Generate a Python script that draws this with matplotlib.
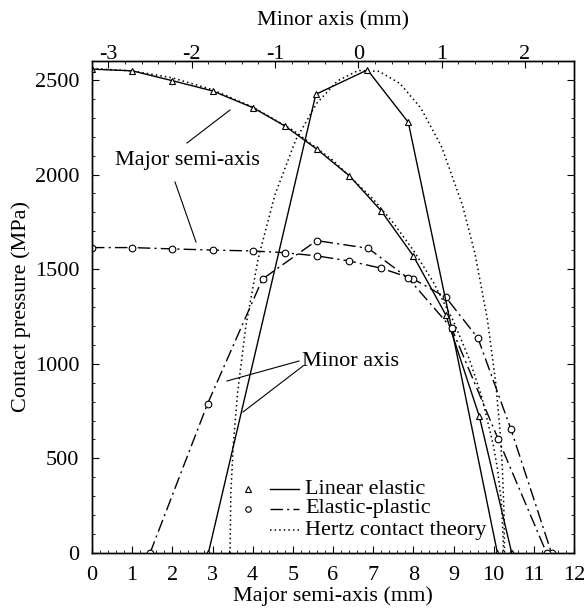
import matplotlib
matplotlib.use("Agg")
import matplotlib.pyplot as plt
from matplotlib.ticker import MultipleLocator
from matplotlib.lines import Line2D

plt.rcParams['font.family'] = ['Liberation Serif', 'DejaVu Serif']
plt.rcParams['axes.unicode_minus'] = False

# ---- data: major semi-axis (bottom axis, mm) ----
maj_lin_x = [0, 1, 2, 3, 4, 4.8, 5.6, 6.41, 7.2, 8.0, 8.81, 9.64, 10.45]
maj_lin_y = [2557, 2548, 2496, 2442, 2354, 2257, 2134, 1993, 1808, 1570, 1258, 724, 0]

maj_ep_x = [0, 1, 2, 3, 4, 4.8, 5.6, 6.41, 7.2, 8.0, 8.81, 9.61, 10.43, 11.44]
maj_ep_y = [1614, 1614, 1607, 1601, 1596, 1587, 1570, 1543, 1505, 1448, 1351, 1135, 654, 0]

maj_hertz_x = [0, 1, 2, 3, 4, 5, 6, 7, 7.5, 8, 8.5, 9, 9.4, 9.7, 10, 10.1, 10.2, 10.25]
maj_hertz_y = [2560, 2548, 2511, 2448, 2357, 2235, 2075, 1870, 1745, 1600, 1431, 1225,
               1021, 827, 562, 437, 252, 0]

# ---- data: minor axis (top axis, mm) ----
min_lin_x = [-1.80, -0.51, 0.11, 0.60, 1.12, 1.67]
min_lin_y = [0, 2424, 2553, 2276, 1188, 0]

min_ep_x = [-2.50, -1.81, -1.15, -0.50, 0.12, 0.60, 1.12, 1.68, 2.26]
min_ep_y = [0, 788, 1448, 1651, 1610, 1452, 1188, 601, 0]

min_hertz_x = [-1.54, -1.53, -1.50, -1.45, -1.35, -1.2, -1.0, -0.75, -0.5, -0.25, 0.0,
               0.25, 0.5, 0.75, 1.0, 1.25, 1.4, 1.55, 1.65, 1.70, 1.73, 1.75, 1.755]
min_hertz_y = [0, 320, 578, 846, 1199, 1560, 1894, 2184, 2376, 2495, 2550,
               2545, 2481, 2352, 2147, 1839, 1583, 1234, 899, 654, 442, 197, 0]

legend_labels = ["Linear elastic", "Elastic-plastic", "Hertz contact theory"]

W, H = 585, 613
fig = plt.figure(figsize=(W / 100, H / 100), dpi=100)
ax = fig.add_axes([92 / W, 1 - 553 / H, (574 - 92) / W, (553 - 61) / H])
ax2 = ax.twiny()

dashdot = (0, (9, 3, 1.5, 3))
dotted = (0, (1, 2))
mk = dict(mfc='white', mec='black', mew=0.8, color='black', lw=1.0)
tri_ms, cir_ms = 4.5, 4.8

ax.plot(maj_hertz_x, maj_hertz_y, color='black', lw=1.1, ls=dotted)
ax.plot(maj_lin_x, maj_lin_y, marker='^', ms=tri_ms, ls='-', **mk)
ax.plot(maj_ep_x, maj_ep_y, marker='o', ms=cir_ms, ls=dashdot, **mk)

ax2.plot(min_hertz_x, min_hertz_y, color='black', lw=1.1, ls=dotted)
ax2.plot(min_lin_x, min_lin_y, marker='^', ms=tri_ms, ls='-', **mk)
ax2.plot(min_ep_x, min_ep_y, marker='o', ms=cir_ms, ls=dashdot, **mk)

ax.set_xlim(0, 12)
ax.set_ylim(0, 2600)
ax2.set_xlim(-3.197, -3.197 + 0.4822 * 12)

ax.xaxis.set_major_locator(MultipleLocator(1))
ax.xaxis.set_minor_locator(MultipleLocator(0.2))
ax.yaxis.set_major_locator(MultipleLocator(500))
ax.yaxis.set_minor_locator(MultipleLocator(100))
ax2.xaxis.set_major_locator(MultipleLocator(1))
ax2.xaxis.set_minor_locator(MultipleLocator(0.2))

fs = 16
for a in (ax, ax2):
    a.tick_params(which='major', direction='in', length=5, width=0.8, labelsize=fs)
    a.tick_params(which='minor', direction='in', length=2.5, width=0.6)
    for s in a.spines.values():
        s.set_linewidth(1.0)
ax.tick_params(axis='y', which='both', right=True, pad=9)
ax.tick_params(axis='x', pad=9)
ax2.tick_params(axis='x', pad=-2)

ax.set_xlabel("Major semi-axis (mm)", fontsize=fs, labelpad=1)
ax.set_ylabel("Contact pressure (MPa)", fontsize=fs, labelpad=3)
ax2.set_xlabel("Minor axis (mm)", fontsize=fs, labelpad=14)

# annotations (pixel positions converted to axes fraction)
def af(px, py):
    return ((px - 92) / (574 - 92), (553 - py) / (553 - 61))

ax.text(*af(187, 160), "Major semi-axis", transform=ax.transAxes, fontsize=fs,
        ha='center', va='center')
for (p0, p1) in [((187, 143), (230, 110)), ((175, 182), (196, 242))]:
    a0, a1 = af(*p0), af(*p1)
    ax.add_line(Line2D([a0[0], a1[0]], [a0[1], a1[1]], transform=ax.transAxes,
                       color='black', lw=0.8))

ax.text(*af(302, 361), "Minor axis", transform=ax.transAxes, fontsize=fs,
        ha='left', va='center')
for (p0, p1) in [((299, 361), (227, 381)), ((303, 366), (243, 412))]:
    a0, a1 = af(*p0), af(*p1)
    ax.add_line(Line2D([a0[0], a1[0]], [a0[1], a1[1]], transform=ax.transAxes,
                       color='black', lw=0.8))

# legend drawn manually
rows = [489, 509, 530]
styles = [('^', '-'), ('o', dashdot), (None, dotted)]
for py, (m, ls), lab in zip(rows, styles, legend_labels):
    if m:
        mx, my = af(248, py)
        ax.plot([mx], [my], marker=m, ms=4, mfc='white',
                mec='black', mew=0.8, transform=ax.transAxes, ls='none')
    l0, l1 = af(270, py), af(299, py)
    ax.add_line(Line2D([l0[0], l1[0]], [l0[1], l1[1]], transform=ax.transAxes,
                       color='black', lw=1.0 if ls != dotted else 1.1, ls=ls))
    ax.text(*af(305, py), lab, transform=ax.transAxes, fontsize=fs,
            ha='left', va='center')

fig.savefig("out.png", dpi=100)
